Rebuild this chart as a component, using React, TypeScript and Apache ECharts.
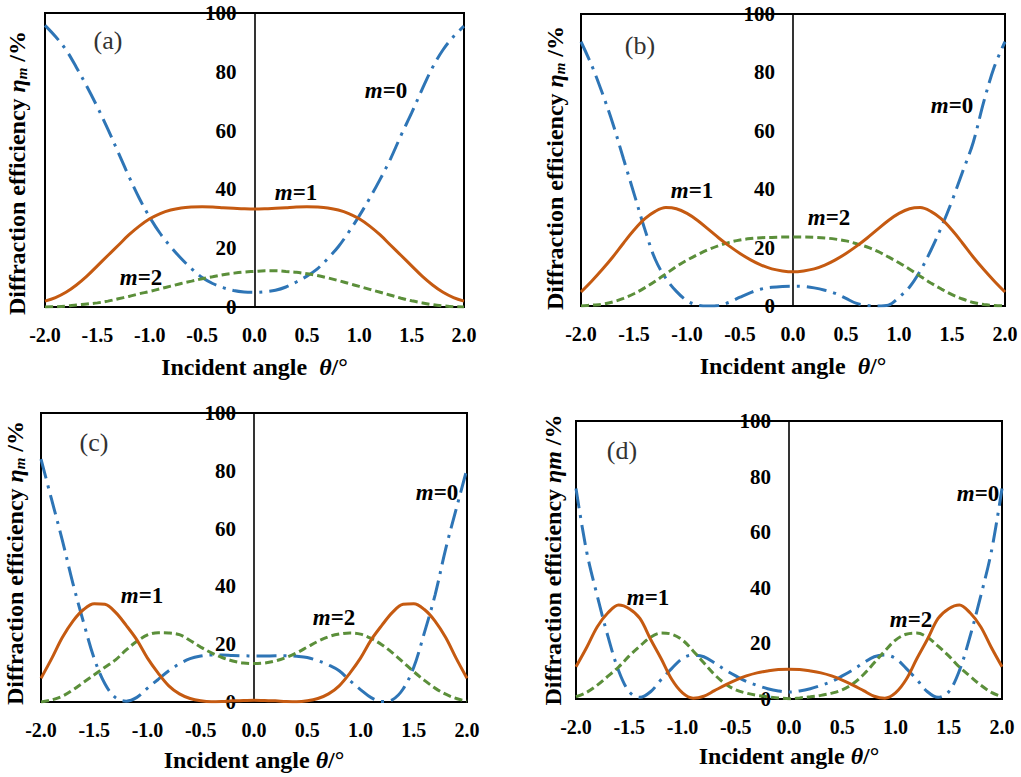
import React, { useEffect, useRef } from "react";
import * as echarts from "echarts";

const FONT = '"Liberation Serif", "Times New Roman", serif';
const BLUE = "#2E75B6";
const ORANGE = "#C55A11";
const GREEN = "#5B8F3A";

// incident angle theta (deg)
const THETA = [
  -2.0, -1.9, -1.8, -1.7, -1.6, -1.5, -1.4, -1.3, -1.2, -1.1, -1.0,
  -0.9, -0.8, -0.7, -0.6, -0.5, -0.4, -0.3, -0.2, -0.1, 0.0,
  0.1, 0.2, 0.3, 0.4, 0.5, 0.6, 0.7, 0.8, 0.9, 1.0,
  1.1, 1.2, 1.3, 1.4, 1.5, 1.6, 1.7, 1.8, 1.9, 2.0,
];
const X_TICKS = ["-2.0", "-1.5", "-1.0", "-0.5", "0.0", "0.5", "1.0", "1.5", "2.0"];
const Y_TICKS = [0, 20, 40, 60, 80, 100];

// panel (a)
const A_M0 = [95.8, 92, 87.5, 81.5, 75, 68, 60.5, 52.5, 44.5, 37, 30.5, 25, 20.5, 16.5, 13, 10, 8, 6.6, 5.6, 5.1, 5, 5.2, 5.7, 6.8, 8.5, 10.5, 13, 16.5, 20.5, 25.5, 31, 37, 43.5, 50.5, 58.5, 66, 74, 81.5, 87.5, 92, 95.5];
const A_M1 = [2, 3.2, 5, 7.5, 10.5, 14, 17.5, 21, 24.5, 27.5, 30, 31.8, 33, 33.7, 34, 34.1, 34, 33.8, 33.6, 33.4, 33.3, 33.4, 33.6, 33.8, 34, 34.1, 34, 33.7, 33, 31.8, 30, 27.5, 24.5, 21, 17.5, 14, 10.5, 7.5, 5, 3.2, 2];
const A_M2 = [0, 0.1, 0.3, 0.7, 1.0, 1.4, 2, 2.8, 3.6, 4.5, 5.3, 6.2, 7.1, 8, 8.8, 9.6, 10.3, 11, 11.5, 11.9, 12.1, 12.3, 12.3, 12.1, 11.8, 11.3, 10.7, 9.9, 9, 8, 7, 6, 5, 4, 3, 2.1, 1.4, 0.8, 0.4, 0.1, 0];

// panel (b)
const B_M0 = [90.5, 82.5, 73, 62.5, 50.5, 38.5, 26.5, 16, 9.5, 5, 1.8, 0.3, 0, 0.2, 1.3, 3, 4.6, 5.8, 6.4, 6.7, 6.8, 6.7, 6.2, 5.4, 4.3, 2.6, 0.9, 0.2, 0, 0.3, 3, 6.5, 12, 19, 27, 36, 46, 56, 70, 82, 90.5];
const B_M1 = [4.8, 8.5, 12.5, 16.8, 21.5, 26, 29.8, 32.4, 33.7, 33.3, 31.7, 29.3, 26.3, 23.3, 20.5, 18, 15.8, 14, 12.7, 12, 11.7, 12, 12.7, 14, 15.8, 18, 20.5, 23.3, 26.3, 29.3, 31.7, 33.3, 33.7, 32.4, 29.8, 26, 21.5, 16.8, 12.5, 8.5, 4.8];
const B_M2 = [0, 0.3, 0.6, 1.4, 2.6, 4.2, 6.2, 8.5, 11, 13.5, 15.7, 17.6, 19.3, 20.7, 21.8, 22.6, 23.1, 23.4, 23.5, 23.6, 23.6, 23.6, 23.5, 23.3, 22.9, 22.3, 21.3, 20.2, 18.7, 16.8, 14.8, 12.6, 10.2, 7.9, 5.8, 3.9, 2.4, 1.2, 0.5, 0.2, 0];

// panel (c)
const C_M0 = [84, 70, 56, 41, 27.5, 15, 6.3, 1.5, 0.3, 1.6, 4.8, 7.8, 10.8, 13.2, 15, 15.9, 16.3, 16.3, 16.1, 16, 15.9, 15.9, 16, 16, 15.8, 15.4, 14.3, 12.8, 10.8, 7.4, 4.3, 1.5, 0.2, 0.8, 4.5, 12, 24, 37, 53, 67, 80.7];
const C_M1 = [8.2, 15, 22.3, 28, 32, 34, 33.8, 31, 26.5, 21.5, 15.2, 10, 5.6, 2.8, 1.2, 0.4, 0.1, 0.2, 0.4, 0.5, 0.6, 0.5, 0.4, 0.2, 0.1, 0.4, 1.2, 2.8, 5.6, 10, 15.2, 21.5, 26.5, 31, 33.8, 34, 32, 28, 22.3, 15, 8.2];
const C_M2 = [0, 0.7, 2, 4.2, 6.8, 9.4, 12, 14.6, 18, 21, 23.2, 24, 23.9, 23.3, 21.3, 19, 17, 15.4, 14.2, 13.5, 13.3, 13.5, 14.2, 15.4, 17, 19, 21, 22.6, 23.5, 23.9, 23.5, 22, 19.8, 17, 13.8, 10.5, 7.5, 4.8, 2.7, 1.2, 0.3];

// panel (d)
const D_M0 = [75.7, 53, 37, 22.5, 10.2, 2.6, 0.6, 2.6, 7, 11, 14.6, 15.8, 15.2, 13, 10.5, 8.3, 6.3, 4.9, 3.7, 2.9, 2.5, 2.9, 3.7, 4.9, 6.3, 8.3, 10.5, 13, 15.2, 15.8, 14.6, 11, 7, 2.6, 0.6, 2.6, 10.2, 22.5, 37, 53, 75.7];
const D_M1 = [11.6, 18.5, 26, 31, 33.8, 32.5, 29, 21.5, 14.5, 7, 2.2, 0.3, 1, 3, 5, 6.8, 8.3, 9.4, 10.1, 10.6, 10.7, 10.6, 10.1, 9.4, 8.3, 6.8, 5, 3, 1, 0.3, 2.2, 7, 14.5, 21.5, 29, 32.5, 33.8, 31, 26, 18.5, 11.6];
const D_M2 = [0.8, 2.4, 5, 8.2, 11.5, 15.5, 19, 22.2, 23.7, 23.3, 21.2, 17.3, 13, 8.8, 5.5, 3.3, 2.1, 1.3, 0.8, 0.4, 0.1, 0.4, 0.8, 1.3, 2.1, 3.3, 5.5, 8.8, 13, 17.3, 21.2, 23.3, 23.7, 22.2, 19, 15.5, 11.5, 8.2, 5, 2.4, 0.8];

const PANEL_LABELS = ["(a)", "(b)", "(c)", "(d)"];
const SERIES_LABELS = ["m=0", "m=1", "m=2"];

// layout (pixels)
const GRIDS = [
  { left: 45, top: 13, width: 419, height: 294, nameGap: 48, xName: "Incident angle  {t|θ}/°" },
  { left: 581, top: 14, width: 424, height: 292, nameGap: 48, xName: "Incident angle  {t|θ}/°" },
  { left: 41, top: 413, width: 426, height: 289, nameGap: 46, xName: "Incident angle {t|θ}/°" },
  { left: 576, top: 421, width: 426, height: 278, nameGap: 45, xName: "Incident angle {t|θ}/°" },
];
const PANEL_POS = [[108, 40], [640, 45], [94, 442], [622, 450]];
const YTITLE_POS = [[17, 173], [555, 168], [15, 563], [553, 560]];
const ANNOT_POS = [
  [[386, 90], [296, 192], [141, 277]],
  [[952, 105], [692, 190], [829, 217]],
  [[437, 492], [142, 595], [334, 617]],
  [[978, 493], [648, 597], [911, 619]],
];

const PANEL_DATA = [
  [A_M0, A_M1, A_M2],
  [B_M0, B_M1, B_M2],
  [C_M0, C_M1, C_M2],
  [D_M0, D_M1, D_M2],
];

function buildOption() {
  const grid: any[] = [];
  const xAxis: any[] = [];
  const yAxis: any[] = [];
  const series: any[] = [];
  const graphic: any[] = [];

  GRIDS.forEach((g, i) => {
    grid.push({
      left: g.left, top: g.top, width: g.width, height: g.height,
      show: true, borderColor: "#000", borderWidth: 2, backgroundColor: "transparent",
      containLabel: false,
    });
    xAxis.push({
      gridIndex: i, type: "value", min: -2, max: 2, interval: 0.5,
      axisLine: { show: true, onZero: false, lineStyle: { color: "#000", width: 2 } },
      axisTick: { show: false },
      splitLine: { show: false },
      axisLabel: {
        margin: 18, color: "#000", fontFamily: FONT, fontWeight: "bold", fontSize: 20,
        formatter: (v: number) => X_TICKS[Math.round((v + 2) / 0.5)] ?? v.toFixed(1),
      },
      name: g.xName, nameLocation: "middle", nameGap: g.nameGap,
      nameTextStyle: {
        color: "#000", fontFamily: FONT, fontWeight: "bold", fontSize: 24,
        rich: { t: { fontFamily: FONT, fontStyle: "italic", fontWeight: "bold", fontSize: 24, color: "#000" } },
      },
    });
    yAxis.push({
      gridIndex: i, type: "value", min: Y_TICKS[0], max: Y_TICKS[Y_TICKS.length - 1], interval: 20,
      offset: -g.width / 2,
      axisLine: { show: true, onZero: false, lineStyle: { color: "#000", width: 1.6 } },
      axisTick: { show: false },
      splitLine: { show: false },
      axisLabel: { margin: 18, color: "#000", fontFamily: FONT, fontWeight: "bold", fontSize: 21 },
    });
    const [m0, m1, m2] = PANEL_DATA[i];
    series.push({
      name: "m=0", type: "line", xAxisIndex: i, yAxisIndex: i, smooth: 0.35, symbol: "none",
      data: THETA.map((t, k) => [t, m0[k]]),
      lineStyle: { color: BLUE, width: 3, type: [20, 7, 3, 7] }, z: 3,
    });
    series.push({
      name: "m=2", type: "line", xAxisIndex: i, yAxisIndex: i, smooth: 0.35, symbol: "none",
      data: THETA.map((t, k) => [t, m2[k]]),
      lineStyle: { color: GREEN, width: 3, type: [8, 4] }, z: 3,
    });
    series.push({
      name: "m=1", type: "line", xAxisIndex: i, yAxisIndex: i, smooth: 0.35, symbol: "none",
      data: THETA.map((t, k) => [t, m1[k]]),
      lineStyle: { color: ORANGE, width: 3 }, z: 4,
    });

    graphic.push({
      type: "text", x: PANEL_POS[i][0], y: PANEL_POS[i][1], z: 10,
      style: { text: PANEL_LABELS[i], fontFamily: FONT, fontSize: 26, fill: "#333", align: "center", verticalAlign: "middle" },
    });
    const yTitle = i === 3
      ? "{b|Diffraction efficiency }{e|ηm}{b| /%}"
      : "{b|Diffraction efficiency }{e|η}{s|m}{b| /%}";
    graphic.push({
      type: "text", x: YTITLE_POS[i][0], y: YTITLE_POS[i][1], rotation: Math.PI / 2, z: 10,
      style: {
        text: yTitle, align: "center", verticalAlign: "middle", fill: "#000",
        fontFamily: FONT, fontSize: 24, fontWeight: "bold",
        rich: {
          b: { fontFamily: FONT, fontSize: 24, fontWeight: "bold", fill: "#000" },
          e: { fontFamily: FONT, fontSize: 24, fontWeight: "bold", fontStyle: "italic", fill: "#000" },
          s: { fontFamily: FONT, fontSize: 15, fontWeight: "bold", fontStyle: "italic", fill: "#000", lineHeight: 8, verticalAlign: "bottom" },
        },
      },
    });
    SERIES_LABELS.forEach((lab, j) => {
      const [pre, post] = lab.split("=");
      graphic.push({
        type: "text", x: ANNOT_POS[i][j][0], y: ANNOT_POS[i][j][1], z: 10,
        style: {
          text: `{i|${pre}}{b|=${post}}`, align: "center", verticalAlign: "middle", fill: "#000",
          fontFamily: FONT, fontSize: 23, fontWeight: "bold",
          rich: {
            i: { fontFamily: FONT, fontSize: 23, fontWeight: "bold", fontStyle: "italic", fill: "#000" },
            b: { fontFamily: FONT, fontSize: 23, fontWeight: "bold", fill: "#000" },
          },
        },
      });
    });
  });

  return { animation: false, backgroundColor: "#fff", grid, xAxis, yAxis, series, graphic };
}

export default function App() {
  const ref = useRef<HTMLDivElement>(null);
  useEffect(() => {
    if (!ref.current) return;
    const chart = echarts.init(ref.current, null, { renderer: "svg" });
    chart.setOption(buildOption() as any);
    return () => chart.dispose();
  }, []);
  return (
    <div
      ref={ref}
      style={{ position: "absolute", left: 0, top: 0, width: 1021, height: 777, background: "#fff" }}
    />
  );
}
